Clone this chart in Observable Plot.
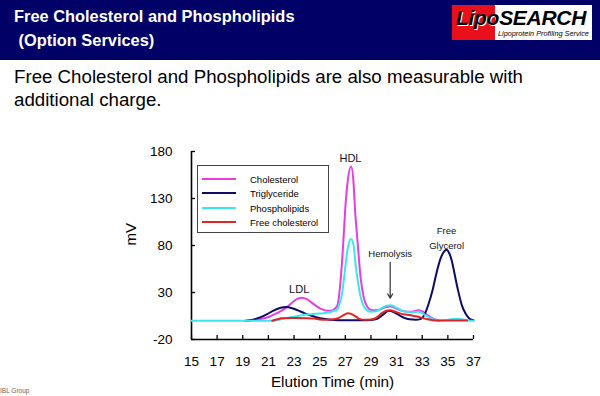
<!DOCTYPE html>
<html>
<head>
<meta charset="utf-8">
<script src="https://cdn.jsdelivr.net/npm/d3@7"></script>
<script src="https://cdn.jsdelivr.net/npm/@observablehq/plot@0.6"></script>
<style>
  html, body { margin: 0; padding: 0; background: #fff; }
  body { width: 600px; height: 396px; position: relative; overflow: hidden; font-family: "Liberation Sans", Arial, sans-serif; }
  .band { position: absolute; left: 0; top: 0; width: 600px; height: 60px; background: #000066; }
  .title { position: absolute; left: 14px; top: 5px; color: #fff; font-weight: bold; font-size: 16.4px; line-height: 23.5px; white-space: pre; }
  .logo { position: absolute; left: 452px; top: 5px; width: 140px; height: 35px; background: #fff; }
  .logo .red { position: absolute; left: 0; top: 0; width: 43px; height: 35px; background: #e8101a; }
  .logo .big { position: absolute; left: 4px; top: 1px; font-weight: bold; font-style: italic; font-size: 21px; letter-spacing: -0.3px; color: #000; white-space: nowrap; }
  .logo .big .lipo { color: #000; text-shadow: 1px 1px 0 #fff; }
  .logo .small { position: absolute; left: 46px; top: 24px; font-style: italic; font-size: 7.3px; color: #000; white-space: nowrap; }
  .sub { position: absolute; left: 14px; top: 65px; font-size: 18.7px; line-height: 23px; color: #000; white-space: nowrap; }
  .legend { position: absolute; left: 197px; top: 165px; width: 130px; height: 66px; border: 1px solid #444; background: #fff; font-size: 9.5px; color: #000; }
  .legend .row { position: absolute; left: 4px; height: 14px; display: flex; align-items: center; }
  .legend .sw { width: 34px; height: 2.5px; margin-right: 14px; }
  .foot { position: absolute; left: 0; top: 387px; font-size: 6.5px; color: #666; }
  #chart { position: absolute; left: 0; top: 120px; }
</style>
</head>
<body>
<div class="band"></div>
<div class="title">Free Cholesterol and Phospholipids
 (Option Services)</div>
<div class="logo"><div class="red"></div><div class="big"><span class="lipo">Lipo</span>SEARCH</div><div class="small">Lipoprotein Profiling Service</div></div>
<div class="sub">Free Cholesterol and Phospholipids are also measurable with<br>additional charge.</div>
<div id="chart"></div>
<div class="legend" id="legend"></div>
<div class="foot">IBL Group</div>
<script>
// ---- data ----
const seriesNames = ["Cholesterol", "Triglyceride", "Phospholipids", "Free cholesterol"];
const seriesColors = ["#e83ce0", "#0c0c66", "#3ce6ee", "#e02424"];

const cholT = [19.4,20.0,20.5,21.0,21.5,22.0,22.5,23.0,23.3,23.6,24.0,24.4,24.8,25.2,25.6,26.0,26.2,26.4,26.6,26.85,27.0,27.2,27.45,27.65,27.75,27.95,28.2,28.45,28.7,29.0,29.4,29.8,30.2,30.5,30.9,31.3,31.7,32.2,32.7,33.0,33.4,33.8,34.3];
const cholV = [0,0.8,2,4,7,10.5,15,21,23.5,24.5,23,19,15,12,10.5,11,13,17,38,85,120,150,164,145,120,85,45,24,15,11.5,11,12.5,14.5,15,13.5,11,9.8,9.5,11,10,6,2.5,0];

const trigT = [19.2,19.8,20.4,20.9,21.4,21.9,22.4,22.8,23.3,23.8,24.3,24.8,25.3,25.8,26.5,28.0,29.0,29.5,29.9,30.4,30.8,31.2,31.6,32.0,32.5,32.9,33.2,33.5,33.8,34.1,34.4,34.7,34.9,35.1,35.3,35.55,35.8,36.1,36.4,36.7,37.0];
const trigV = [0,1,3.8,7,10.8,13.5,14.5,13.5,11,8,5.5,3.5,2,1,0.5,0.5,0.8,2,6,10.5,9,6,3,1.5,1,2,7,18,32,50,65,73.5,75.5,72,64,48,32,16,7,2,0.5];

const phosT = [15.0,21.4,22.0,22.7,23.3,24.0,24.7,25.3,25.8,26.1,26.3,26.5,26.75,27.0,27.2,27.45,27.65,27.8,28.0,28.2,28.45,28.7,29.0,29.4,29.8,30.2,30.5,30.9,31.3,31.7,32.2,32.7,33.0,33.4,33.8,34.2,34.8,35.4,35.8,36.2,36.6,37.0];
const phosV = [0,0,1.5,3.7,5,6.5,7.5,8,9,10.5,11,16,29,57,78,87,80,60,40,25,15,11,9.5,10,13,16,16.5,14.5,11.5,9.5,9,9.5,8,4.5,1.5,0.3,0.5,1.8,2.2,1.2,0.3,0];

const freeT = [21.3,21.7,22.0,23.0,24.0,24.6,25.0,25.5,26.1,26.5,26.9,27.2,27.5,27.8,28.1,28.5,29.0,29.4,29.8,30.2,30.5,30.9,31.3,31.7,32.2,32.6,33.0,33.4,33.8,34.5,35.5,36.5];
const freeV = [0,1.5,2.5,2.8,2.7,2.3,1.3,1,1.5,3,6.3,8,7,4.5,2,1,1.2,3,7.5,10.5,11,9.5,7.5,6.5,5.5,4.5,3,1.5,0.6,0.3,0.3,0.3];

const xTicks = [15,17,19,21,23,25,27,29,31,33,35,37];
const yTicks = [-20,30,80,130,180];

const peakLabels = [
  {text: "HDL", t: 27.4, v: 173, size: 11},
  {text: "LDL", t: 23.4, v: 33, size: 11},
  {text: "Hemolysis", t: 30.5, v: 71, size: 9.5},
  {text: "Free", t: 34.9, v: 95, size: 9.5},
  {text: "Glycerol", t: 34.9, v: 80, size: 9.5}
];
const hemolysisArrow = [{t: 30.5, from: 62, to: 24}];

// ---- build table ----
const allT = [cholT, trigT, phosT, freeT];
const allV = [cholV, trigV, phosV, freeV];
const rows = [];
seriesNames.forEach((name, i) => {
  allT[i].forEach((t, j) => rows.push({series: name, t, v: allV[i][j]}));
});

const chart = Plot.plot({
  width: 600,
  height: 276,
  marginLeft: 191,
  marginRight: 127,
  marginTop: 31,
  marginBottom: 57,
  style: {fontFamily: "'Liberation Sans', Arial, sans-serif", background: "transparent", color: "#000"},
  x: {domain: [15, 37]},
  y: {domain: [-20, 180]},
  color: {domain: seriesNames, range: seriesColors},
  marks: [
    Plot.axisX({ticks: xTicks, tickFormat: d => String(d), tickSize: -4, tickPadding: 21, fontSize: 13.5, label: null, stroke: "#000", strokeWidth: 1.3}),
    Plot.axisY({ticks: yTicks, tickFormat: d => String(d), tickSize: -4, tickPadding: 23, fontSize: 13.5, label: null, stroke: "#000", strokeWidth: 1.3}),
    Plot.ruleX([15], {stroke: "#000", strokeWidth: 1.6}),
    Plot.ruleY([-20], {stroke: "#000", strokeWidth: 1.6}),
    Plot.line(rows, {x: "t", y: "v", z: "series", stroke: "series", strokeWidth: 2, curve: "monotone-x"}),
    Plot.text(peakLabels, {x: "t", y: "v", text: "text", fontSize: d => d.size, fill: "#111"}),
    Plot.arrow(hemolysisArrow, {x1: "t", x2: "t", y1: "from", y2: "to", stroke: "#333", strokeWidth: 1.2, headLength: 6}),
    Plot.text(["mV"], {frameAnchor: "left", dx: -60, rotate: -90, fontSize: 15, text: d => d}),
    Plot.text(["Elution Time (min)"], {frameAnchor: "bottom", dy: 47, fontSize: 15.3, text: d => d})
  ]
});
document.getElementById("chart").appendChild(chart);

// legend (HTML, built from series arrays)
const lg = document.getElementById("legend");
const rowTops = [6, 20, 35, 49];
seriesNames.forEach((name, i) => {
  const r = document.createElement("div");
  r.className = "row";
  r.style.top = rowTops[i] + "px";
  r.innerHTML = `<div class="sw" style="background:${seriesColors[i]}"></div><span>${name}</span>`;
  lg.appendChild(r);
});
</script>
</body>
</html>
